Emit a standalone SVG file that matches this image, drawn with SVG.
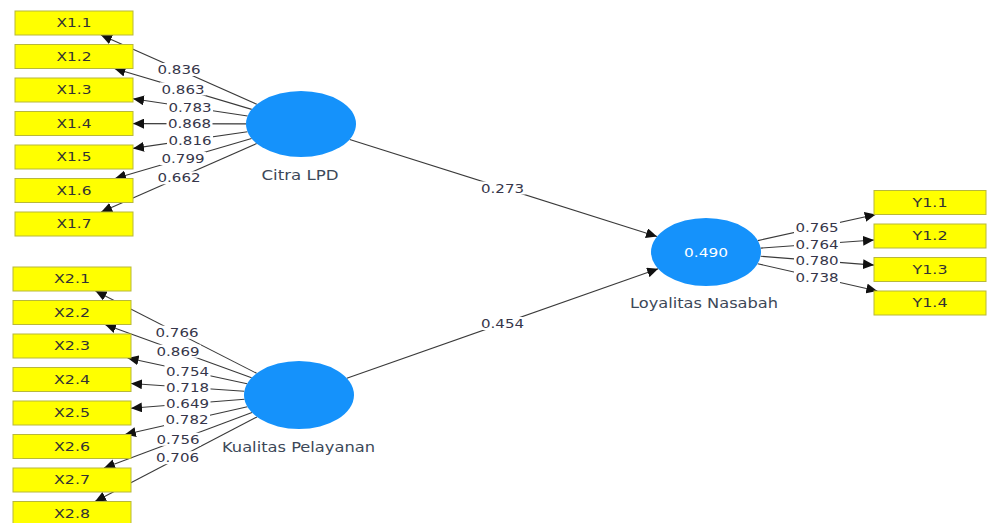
<svg xmlns="http://www.w3.org/2000/svg" width="987" height="523" viewBox="0 0 987 523">
<style>
.ln{stroke:#3a3a3a;stroke-width:1.1;fill:none;marker-end:url(#arr)}
.lb rect{fill:#fff}
.lb text{font-family:"DejaVu Sans",sans-serif;font-size:13px;fill:#36364a;text-anchor:middle}
.box rect{fill:#ffff00;stroke:#b8b83a;stroke-width:1}
.box text{font-family:"DejaVu Sans",sans-serif;font-size:12px;fill:#333;text-anchor:middle}
.lv ellipse{fill:#1592fb}
.lv text{font-family:"DejaVu Sans",sans-serif;font-size:14px;fill:#3c4858;text-anchor:middle}
.lv text.in{fill:#fff;font-size:13px}
</style>
<defs>
<marker id="arr" markerUnits="userSpaceOnUse" markerWidth="12" markerHeight="10" refX="11" refY="5" orient="auto"><path d="M0,0 L11,5 L0,10 z" fill="#111"/></marker>
</defs>
<rect width="987" height="523" fill="#fff"/>
<g id="connectors">
<path class="ln" d="M256.8,104.3 L101,35"/>
<path class="ln" d="M251.7,109.4 L114.4,68.5"/>
<path class="ln" d="M247.6,116 L133,98.8"/>
<path class="ln" d="M246,123.9 L133,123.6"/>
<path class="ln" d="M247.5,131.8 L133,148.4"/>
<path class="ln" d="M251.6,138.5 L115,178.5"/>
<path class="ln" d="M256.7,143.5 L101.2,212"/>
<path class="ln" d="M256.6,373.3 L95.5,291"/>
<path class="ln" d="M251.6,377.8 L105,324.5"/>
<path class="ln" d="M247.1,383.8 L127.6,358"/>
<path class="ln" d="M244.3,391.3 L131,383.5"/>
<path class="ln" d="M244.5,399.3 L131,408.3"/>
<path class="ln" d="M247.4,406.7 L124.9,434.5"/>
<path class="ln" d="M252,412.6 L104,468"/>
<path class="ln" d="M257,416.9 L95,501.5"/>
<path class="ln" d="M757.8,240.6 L875.7,214.5"/>
<path class="ln" d="M760.6,248.1 L874,240"/>
<path class="ln" d="M760.6,256.3 L874,265.1"/>
<path class="ln" d="M757.6,263.7 L877.3,291"/>
<path class="ln" d="M349.7,139.4 L657,236.5"/>
<path class="ln" d="M346.8,378.2 L658.2,268.8"/>
<g class="lb">
<rect x="156" y="63" width="46" height="13"/><text x="179" y="74.3" textLength="43" lengthAdjust="spacingAndGlyphs">0.836</text>
<rect x="160" y="82.4" width="46" height="13"/><text x="183" y="93.5" textLength="43" lengthAdjust="spacingAndGlyphs">0.863</text>
<rect x="167" y="100.9" width="46" height="13"/><text x="190" y="112" textLength="43" lengthAdjust="spacingAndGlyphs">0.783</text>
<rect x="166.5" y="117.3" width="46" height="13"/><text x="189.5" y="128.4" textLength="43" lengthAdjust="spacingAndGlyphs">0.868</text>
<rect x="167" y="133.6" width="46" height="13"/><text x="190" y="144.7" textLength="43" lengthAdjust="spacingAndGlyphs">0.816</text>
<rect x="160" y="152" width="46" height="13"/><text x="183" y="163.1" textLength="43" lengthAdjust="spacingAndGlyphs">0.799</text>
<rect x="156" y="171.3" width="46" height="13"/><text x="179" y="182.4" textLength="43" lengthAdjust="spacingAndGlyphs">0.662</text>
<rect x="154" y="325.7" width="46" height="13"/><text x="177" y="336.8" textLength="43" lengthAdjust="spacingAndGlyphs">0.766</text>
<rect x="155" y="344.7" width="46" height="13"/><text x="178" y="355.8" textLength="43" lengthAdjust="spacingAndGlyphs">0.869</text>
<rect x="164.5" y="364.4" width="46" height="13"/><text x="187.5" y="375.5" textLength="43" lengthAdjust="spacingAndGlyphs">0.754</text>
<rect x="164.5" y="380.9" width="46" height="13"/><text x="187.5" y="392" textLength="43" lengthAdjust="spacingAndGlyphs">0.718</text>
<rect x="164.5" y="396.8" width="46" height="13"/><text x="187.5" y="407.9" textLength="43" lengthAdjust="spacingAndGlyphs">0.649</text>
<rect x="164" y="413.3" width="46" height="13"/><text x="187" y="424.4" textLength="43" lengthAdjust="spacingAndGlyphs">0.782</text>
<rect x="155" y="432.8" width="46" height="13"/><text x="178" y="443.9" textLength="43" lengthAdjust="spacingAndGlyphs">0.756</text>
<rect x="154.5" y="451.2" width="46" height="13"/><text x="177.5" y="462.3" textLength="43" lengthAdjust="spacingAndGlyphs">0.706</text>
<rect x="794" y="221.1" width="46" height="13"/><text x="817" y="232.2" textLength="43" lengthAdjust="spacingAndGlyphs">0.765</text>
<rect x="794" y="237.6" width="46" height="13"/><text x="817" y="248.7" textLength="43" lengthAdjust="spacingAndGlyphs">0.764</text>
<rect x="794" y="254.2" width="46" height="13"/><text x="817" y="265.3" textLength="43" lengthAdjust="spacingAndGlyphs">0.780</text>
<rect x="794" y="270.6" width="46" height="13"/><text x="817" y="281.7" textLength="43" lengthAdjust="spacingAndGlyphs">0.738</text>
<rect x="479.5" y="181.5" width="46" height="13"/><text x="502.5" y="192.6" textLength="43" lengthAdjust="spacingAndGlyphs">0.273</text>
<rect x="479.5" y="317" width="46" height="13"/><text x="502.5" y="328.1" textLength="43" lengthAdjust="spacingAndGlyphs">0.454</text>
</g>
</g>
<g id="X1.1" class="box"><rect x="15" y="11" width="118" height="24"/><text x="74" y="27.3" textLength="35" lengthAdjust="spacingAndGlyphs">X1.1</text></g>
<g id="X1.2" class="box"><rect x="15" y="44.5" width="118" height="24"/><text x="74" y="60.8" textLength="35" lengthAdjust="spacingAndGlyphs">X1.2</text></g>
<g id="X1.3" class="box"><rect x="15" y="78" width="118" height="24"/><text x="74" y="94.3" textLength="35" lengthAdjust="spacingAndGlyphs">X1.3</text></g>
<g id="X1.4" class="box"><rect x="15" y="111.5" width="118" height="24"/><text x="74" y="127.8" textLength="35" lengthAdjust="spacingAndGlyphs">X1.4</text></g>
<g id="X1.5" class="box"><rect x="15" y="145" width="118" height="24"/><text x="74" y="161.3" textLength="35" lengthAdjust="spacingAndGlyphs">X1.5</text></g>
<g id="X1.6" class="box"><rect x="15" y="178.5" width="118" height="24"/><text x="74" y="194.8" textLength="35" lengthAdjust="spacingAndGlyphs">X1.6</text></g>
<g id="X1.7" class="box"><rect x="15" y="212" width="118" height="24"/><text x="74" y="228.3" textLength="35" lengthAdjust="spacingAndGlyphs">X1.7</text></g>
<g id="X2.1" class="box"><rect x="13" y="267" width="118" height="24"/><text x="72" y="283.3" textLength="36" lengthAdjust="spacingAndGlyphs">X2.1</text></g>
<g id="X2.2" class="box"><rect x="13" y="300.5" width="118" height="24"/><text x="72" y="316.8" textLength="36" lengthAdjust="spacingAndGlyphs">X2.2</text></g>
<g id="X2.3" class="box"><rect x="13" y="334" width="118" height="24"/><text x="72" y="350.3" textLength="36" lengthAdjust="spacingAndGlyphs">X2.3</text></g>
<g id="X2.4" class="box"><rect x="13" y="367.5" width="118" height="24"/><text x="72" y="383.8" textLength="36" lengthAdjust="spacingAndGlyphs">X2.4</text></g>
<g id="X2.5" class="box"><rect x="13" y="401" width="118" height="24"/><text x="72" y="417.3" textLength="36" lengthAdjust="spacingAndGlyphs">X2.5</text></g>
<g id="X2.6" class="box"><rect x="13" y="434.5" width="118" height="24"/><text x="72" y="450.8" textLength="36" lengthAdjust="spacingAndGlyphs">X2.6</text></g>
<g id="X2.7" class="box"><rect x="13" y="468" width="118" height="24"/><text x="72" y="484.3" textLength="36" lengthAdjust="spacingAndGlyphs">X2.7</text></g>
<g id="X2.8" class="box"><rect x="13" y="501.5" width="118" height="24"/><text x="72" y="517.8" textLength="36" lengthAdjust="spacingAndGlyphs">X2.8</text></g>
<g id="Y1.1" class="box"><rect x="874" y="190.5" width="112" height="24"/><text x="930" y="206.8" textLength="35" lengthAdjust="spacingAndGlyphs">Y1.1</text></g>
<g id="Y1.2" class="box"><rect x="874" y="224" width="112" height="24"/><text x="930" y="240.3" textLength="35" lengthAdjust="spacingAndGlyphs">Y1.2</text></g>
<g id="Y1.3" class="box"><rect x="874" y="257.5" width="112" height="24"/><text x="930" y="273.8" textLength="35" lengthAdjust="spacingAndGlyphs">Y1.3</text></g>
<g id="Y1.4" class="box"><rect x="874" y="291" width="112" height="24"/><text x="930" y="307.3" textLength="35" lengthAdjust="spacingAndGlyphs">Y1.4</text></g>
<g id="CitraLPD" class="lv"><ellipse cx="301" cy="124" rx="55" ry="33"/><text x="300" y="179.5" textLength="77" lengthAdjust="spacingAndGlyphs">Citra LPD</text></g>
<g id="KualitasPelayanan" class="lv"><ellipse cx="299" cy="395" rx="55" ry="34"/><text x="298.5" y="452" textLength="153" lengthAdjust="spacingAndGlyphs">Kualitas Pelayanan</text></g>
<g id="LoyalitasNasabah" class="lv"><ellipse cx="706" cy="252" rx="55" ry="34"/><text class="in" x="706" y="256.7" textLength="44" lengthAdjust="spacingAndGlyphs">0.490</text><text x="704" y="307.7" textLength="148" lengthAdjust="spacingAndGlyphs">Loyalitas Nasabah</text></g>
</svg>
